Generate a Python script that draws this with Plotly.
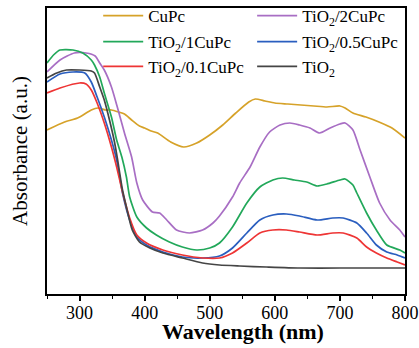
import plotly.graph_objects as go

# Wavelength (nm) and absorbance (a.u.)
wl_cupc = [250,277,297,318,328,340,349,360,369,380,392,400,410,420,440,460,480,500,520,540,560,570,585,600,620,640,660,680,700,708,720,740,760,780,800]
ab_cupc = [1.64,1.72,1.76,1.84,1.86,1.84,1.84,1.82,1.80,1.74,1.68,1.66,1.63,1.61,1.52,1.47,1.51,1.59,1.69,1.81,1.92,1.95,1.93,1.91,1.90,1.89,1.88,1.87,1.88,1.86,1.81,1.77,1.72,1.66,1.56]

wl_2 = [250,270,292,310,324,331,338,349,358,369,380,388,397,412,423,434,449,469,489,505,515,535,546,562,577,592,608,623,638,654,669,685,700,708,720,731,746,761,777,792,800]
ab_2 = [2.22,2.34,2.41,2.41,2.38,2.31,2.24,2.07,1.87,1.61,1.37,1.11,0.94,0.82,0.81,0.74,0.64,0.61,0.64,0.71,0.78,0.97,1.11,1.27,1.47,1.62,1.69,1.71,1.69,1.66,1.61,1.66,1.70,1.71,1.64,1.44,1.17,0.91,0.74,0.64,0.57]

wl_1 = [250,260,270,290,305,318,323,331,338,349,357,365,372,377,388,403,418,438,458,480,500,515,535,557,577,597,612,630,649,665,680,700,708,720,726,741,756,772,792,800]
ab_1 = [2.31,2.39,2.44,2.44,2.41,2.34,2.29,2.17,2.01,1.77,1.54,1.37,1.17,0.97,0.77,0.66,0.59,0.52,0.47,0.44,0.46,0.51,0.67,0.91,1.07,1.14,1.16,1.14,1.12,1.08,1.10,1.14,1.15,1.09,1.01,0.81,0.64,0.49,0.44,0.41]

wl_05 = [250,270,290,308,318,327,338,349,357,366,377,388,403,428,458,489,515,535,557,577,597,618,638,665,689,705,726,741,756,772,788,800]
ab_05 = [2.12,2.20,2.22,2.21,2.12,1.97,1.77,1.54,1.34,1.01,0.74,0.57,0.49,0.42,0.37,0.36,0.38,0.46,0.61,0.74,0.79,0.80,0.78,0.74,0.76,0.76,0.71,0.61,0.49,0.42,0.39,0.36]

wl_01 = [250,270,300,310,318,327,338,349,357,366,377,388,403,428,458,489,515,535,557,577,597,618,638,665,689,705,726,741,756,772,788,800]
ab_01 = [2.01,2.06,2.11,2.10,2.04,1.91,1.71,1.47,1.27,1.02,0.76,0.59,0.51,0.44,0.39,0.36,0.36,0.41,0.51,0.61,0.64,0.64,0.62,0.59,0.61,0.61,0.56,0.47,0.41,0.36,0.32,0.29]

wl_tio2 = [250,265,280,300,318,323,331,338,346,354,358,366,372,381,392,408,428,458,489,515,546,587,638,700,760,800]
ab_tio2 = [2.16,2.21,2.24,2.24,2.23,2.21,2.07,1.94,1.74,1.51,1.36,1.04,0.87,0.64,0.52,0.46,0.41,0.36,0.31,0.29,0.28,0.27,0.26,0.26,0.26,0.26]

labels = ["CuPc", "TiO<sub>2</sub>/2CuPc", "TiO<sub>2</sub>/1CuPc",
          "TiO<sub>2</sub>/0.5CuPc", "TiO<sub>2</sub>/0.1CuPc", "TiO<sub>2</sub>"]
xs = [wl_cupc, wl_2, wl_1, wl_05, wl_01, wl_tio2]
ys = [ab_cupc, ab_2, ab_1, ab_05, ab_01, ab_tio2]
colors = ["#D6A229", "#A86EC4", "#22A85A", "#2A5EBF", "#EE3535", "#454545"]

# legend layout: two columns, three rows (paper coords)
leg_x = [0.143, 0.573]
leg_y = [0.972, 0.881, 0.794]

font = "Liberation Serif, Times New Roman, serif"
fig = go.Figure()
legends = {}
for i, (name, x, y, c) in enumerate(zip(labels, xs, ys, colors)):
    key = "legend" if i == 0 else f"legend{i+1}"
    fig.add_trace(go.Scatter(x=x, y=y, mode="lines", name=name, legend=key,
                             line=dict(color=c, width=1.7, shape="spline", smoothing=0.6)))
    legends[key] = dict(x=leg_x[i % 2], y=leg_y[i // 2], xanchor="left", yanchor="middle",
                        itemwidth=40, bgcolor="rgba(0,0,0,0)",
                        font=dict(family=font, size=17))

fig.update_layout(
    width=419, height=348,
    margin=dict(l=47, r=14, t=8, b=54, autoexpand=False),
    paper_bgcolor="white", plot_bgcolor="white",
    font=dict(family=font, color="black"),
    showlegend=True,
    xaxis=dict(range=[250, 800], tick0=300, dtick=100, ticks="outside", ticklen=5,
               tickwidth=1.5, tickcolor="black", showline=True, linecolor="black",
               linewidth=1.5, mirror=True, showgrid=False, zeroline=False,
               tickfont=dict(size=18, family=font), ticklabelstandoff=-3,
               minor=dict(dtick=50, tick0=250, ticks="outside", ticklen=3, tickwidth=1.2, tickcolor="black")),
    yaxis=dict(range=[0, 2.86], showticklabels=False, ticks="", showline=True,
               linecolor="black", linewidth=1.5, mirror=True, showgrid=False, zeroline=False,
               title=dict(text="Absorbance (a.u.)", font=dict(size=21, family=font), standoff=12)),
    annotations=[dict(text="<b>Wavelength (nm)</b>", xref="paper", yref="paper",
                      x=0.5475, y=0, xanchor="center", yanchor="middle", yshift=-37,
                      showarrow=False, font=dict(size=22, family=font))],
)
fig.update_layout(**legends)
fig.write_html("out.html")
